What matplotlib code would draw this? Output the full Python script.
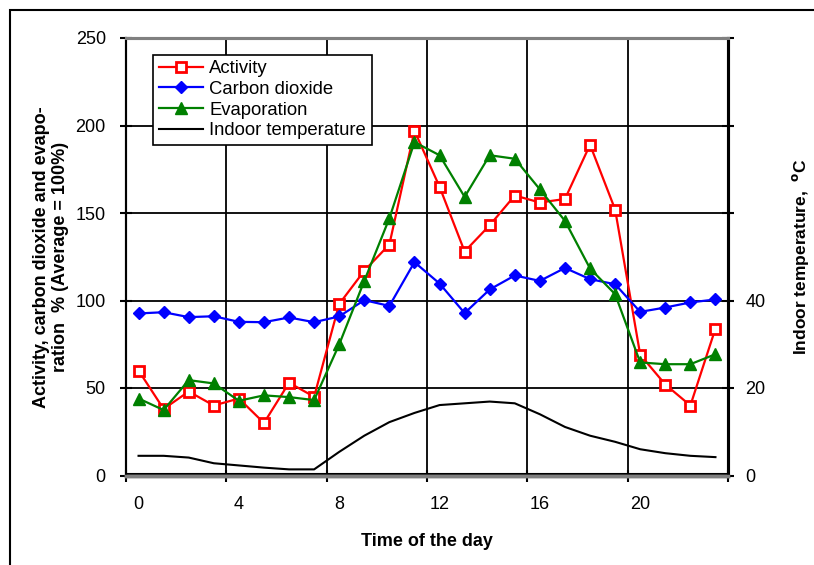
import matplotlib
matplotlib.use("Agg")
import matplotlib.pyplot as plt
from matplotlib.patches import Rectangle
from matplotlib.ticker import FixedLocator, FuncFormatter

plt.rcParams['font.family'] = ['Liberation Sans', 'DejaVu Sans']

hours = list(range(24))
activity = [60, 38, 48, 40, 44, 30, 53, 45, 98, 117, 132, 197, 165, 128, 143, 160, 156, 158, 189, 152, 69, 52, 40, 84]
co2 = [92.6, 93.3, 90.5, 91, 87.8, 87.6, 90.3, 87.6, 90.9, 100.2, 96.9, 121.9, 109.7, 92.8, 106.3, 114.3, 111.2, 118.6, 112.2, 109.3, 93.5, 96, 98.9, 100.6]
evaporation = [44, 37.4, 54.5, 52.6, 42.7, 45.8, 44.8, 43.1, 74.9, 111.2, 147, 190.5, 183, 159.2, 183, 181, 163.5, 145.5, 118.3, 103.6, 64.6, 63.6, 63.6, 69.3]
temperature = [4.5, 4.5, 4.1, 2.8, 2.3, 1.8, 1.4, 1.4, 5.4, 9.1, 12.2, 14.3, 16.1, 16.5, 16.9, 16.5, 14.0, 11.1, 9.1, 7.7, 6.0, 5.1, 4.5, 4.2]
xtick_labels = ['0', '4', '8', '12', '16', '20']
xtick_pos = [0, 4, 8, 12, 16, 20]

fig = plt.figure(figsize=(8.14, 5.65), dpi=100)
fig.patches.append(Rectangle((10/814, -0.1), 2, 1.1 - 10/565, transform=fig.transFigure,
                             fill=False, edgecolor='black', linewidth=1.5))

ax = fig.add_axes([126/814, (565-475.5)/565, (728-126)/814, (475.5-38)/565])
ax.set_xlim(-0.5, 23.5)
ax.set_ylim(0, 250)

# grid
for gx in [3.5, 7.5, 11.5, 15.5, 19.5]:
    ax.axvline(gx, color='black', lw=1.3, zorder=1)
for gy in [50, 100, 150, 200]:
    ax.axhline(gy, color='black', lw=1.3, zorder=1)

ax.plot(hours, activity, color='red', lw=1.6, marker='s', ms=6.5, mfc='white', mec='red', mew=2,
        label='Activity', zorder=4)
ax.plot(hours, co2, color='blue', lw=1.6, marker='D', ms=6, mfc='blue', mec='blue',
        label='Carbon dioxide', zorder=4)
ax.plot(hours, evaporation, color='green', lw=1.6, marker='^', ms=8, mfc='green', mec='green',
        label='Evaporation', zorder=4)

ax2 = ax.twinx()
ax2.set_ylim(0, 100)
ax2.plot(hours, temperature, color='black', lw=1.5, label='Indoor temperature', zorder=3)
ax2.yaxis.set_major_locator(FixedLocator([0, 20, 40, 60, 80, 100]))
ax2.yaxis.set_major_formatter(FuncFormatter(lambda v, p: f'{int(v)}' if v <= 40 else ''))
ax2.tick_params(axis='y', direction='inout', length=9, width=1.5, labelsize=13, pad=8)
ax2.set_ylabel('Indoor temperature,  $^{\\mathbf{o}}$C', fontsize=12.5, fontweight='bold',
               labelpad=18)

# x ticks
ax.xaxis.set_major_locator(FixedLocator([-0.5, 3.5, 7.5, 11.5, 15.5, 19.5, 23.5]))
ax.xaxis.set_major_formatter(FuncFormatter(lambda v, p: ''))
ax.xaxis.set_minor_locator(FixedLocator(xtick_pos))
ax.set_xticklabels(xtick_labels, minor=True)
ax.tick_params(axis='x', which='major', direction='inout', length=9, width=1.5)
ax.tick_params(axis='x', which='minor', length=0, labelsize=13, pad=15)
ax.yaxis.set_major_locator(FixedLocator([0, 50, 100, 150, 200, 250]))
ax.tick_params(axis='y', direction='inout', length=9, width=1.5, labelsize=13, pad=10)

ax.set_xlabel('Time of the day', fontsize=13, fontweight='bold', labelpad=14)
ax.set_ylabel('Activity, carbon dioxide and evapo-\nration  % (Average = 100%)', fontsize=13,
              fontweight='bold', labelpad=5, linespacing=1.1)

for a in (ax, ax2):
    a.spines['left'].set_color('black'); a.spines['left'].set_linewidth(1.5)
    a.spines['bottom'].set_color('#808080'); a.spines['bottom'].set_linewidth(2.5)
    a.spines['top'].set_color('#808080'); a.spines['top'].set_linewidth(2.2)
    a.spines['right'].set_color('black'); a.spines['right'].set_linewidth(2.2)
ax.axhline(0.6, color='black', lw=1.5, zorder=2)

h1, l1 = ax.get_legend_handles_labels()
h2, l2 = ax2.get_legend_handles_labels()
leg = ax2.legend(h1 + h2, l1 + l2, loc='upper left', bbox_to_anchor=(0.045, 0.962),
                 borderaxespad=0, fontsize=13.3, frameon=True, fancybox=False, framealpha=1,
                 edgecolor='black', handlelength=2.4, handletextpad=0.35, labelspacing=0.2,
                 borderpad=0.3)
leg.get_frame().set_linewidth(1.2)

fig.savefig('out.png', dpi=100)
